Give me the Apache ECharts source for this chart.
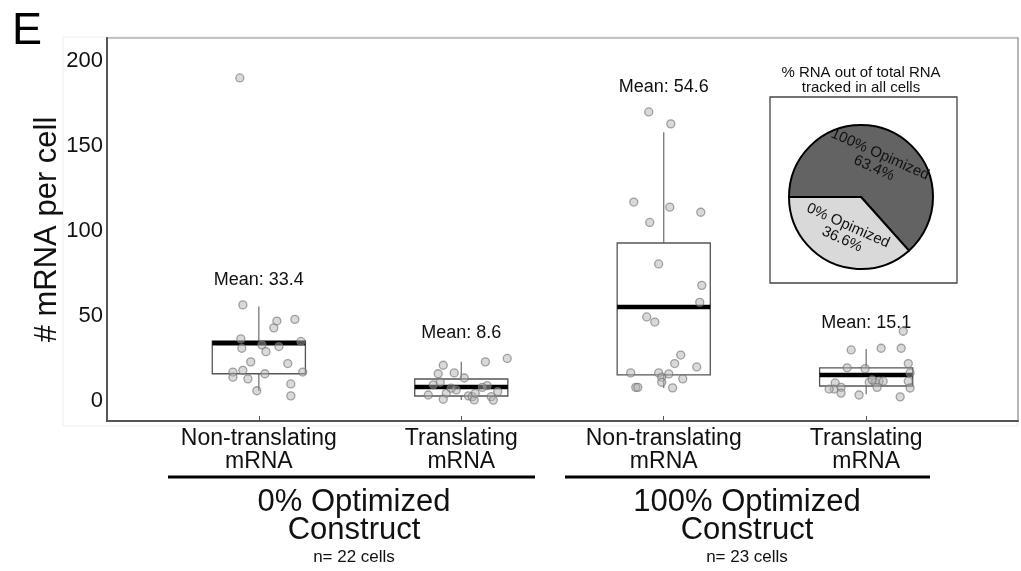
<!DOCTYPE html>
<html>
<head>
<meta charset="utf-8">
<script src="https://cdn.jsdelivr.net/npm/echarts@6/dist/echarts.min.js"></script>
<style>
  html, body { margin: 0; padding: 0; background: #fff; }
  #chart { width: 1021px; height: 571px; }
</style>
</head>
<body>
<div id="chart"></div>
<script>
// ---- data ----
const categories = ['Non-translating\nmRNA', 'Translating\nmRNA', 'Non-translating\nmRNA', 'Translating\nmRNA'];
const yTicks = [0, 50, 100, 150, 200];

// box statistics per group
const whiskerLow  = [5.9, 0.5, 7.6, 4.0];
const quartile1   = [16.0, 2.9, 15.3, 8.8];
const medians     = [34.0, 8.2, 55.3, 15.3];
const quartile3   = [35.3, 12.9, 92.9, 19.4];
const whiskerHigh = [55.5, 23.0, 158.0, 30.6];
const means       = [33.4, 8.6, 54.6, 15.1];

// single cells: [horizontal jitter, mRNA count]
const cellsNonTrans0 = [
  [-0.094, 190], [-0.079, 56.5], [0.089, 47], [0.178, 48], [0.074, 43], [-0.089, 36.5],
  [-0.084, 31], [0.015, 33], [0.035, 29], [0.099, 32], [0.208, 35], [-0.040, 23],
  [0.143, 22], [-0.128, 17], [-0.079, 18], [-0.128, 14], [-0.054, 13], [0.030, 16],
  [0.217, 17], [-0.010, 6], [0.158, 10], [0.158, 3]
];
const cellsTrans0 = [
  [-0.089, 21], [0.119, 23], [0.227, 25], [-0.114, 16], [-0.035, 16.5], [0.015, 13.5],
  [-0.104, 11], [-0.138, 9.5], [0.128, 9], [0.104, 8], [-0.025, 6.5], [-0.163, 3.5],
  [-0.074, 4.5], [-0.089, 1], [0.035, 3], [0.054, 2.5], [0.064, 0.6], [0.069, 4.5],
  [0.148, 2.5], [0.158, 0.5], [-0.050, 7.5], [0.180, 5.5]
];
const cellsNonTrans100 = [
  [-0.074, 170], [0.035, 163], [-0.148, 117], [0.030, 114], [0.183, 111], [-0.069, 105],
  [-0.025, 80.6], [0.188, 68], [0.178, 58], [-0.084, 49.4], [-0.044, 46.4], [0.084, 27],
  [0.054, 22], [0.163, 20], [-0.163, 16.5], [-0.025, 16.5], [0.025, 15.9], [-0.010, 14],
  [-0.010, 11], [0.094, 13], [-0.138, 8], [-0.128, 8], [0.044, 7.7]
];
const cellsTrans100 = [
  [0.183, 41], [-0.074, 30], [0.074, 31], [0.173, 31], [0.208, 22], [-0.094, 19.5],
  [-0.005, 19], [-0.153, 10.6], [-0.158, 7], [-0.124, 8], [-0.124, 4.6], [-0.035, 3.5],
  [0.015, 11], [0.044, 11], [0.064, 11.6], [0.084, 11.6], [0.054, 8], [0.208, 11.6],
  [0.217, 7.6], [0.168, 2.4], [0.030, 12.4], [-0.183, 7], [0.217, 16.5]
];
const cellGroups = [cellsNonTrans0, cellsTrans0, cellsNonTrans100, cellsTrans100];

// share of all tracked RNA
const pieNames  = ['100% Opimized', '0% Opimized'];
const pieShares = [63.4, 36.6];
const pieColors = ['#636363', '#d9d9d9'];

const groupTitles = ['0% Optimized\nConstruct', '100% Optimized\nConstruct'];
const groupCounts = ['n= 22 cells', 'n= 23 cells'];

// ---- build ----
const FONT = '"Liberation Sans", Arial, Helvetica, sans-serif';
const BOX_WIDTH = 0.46;

// the mean caption sits above the whisker and any cell hugging its top
function captionAnchor(cells, hi) {
  let top = hi;
  cells.forEach(c => { if (c[1] <= hi * 1.1 && c[1] > top) top = c[1]; });
  return top;
}

const boxData = categories.map((_, i) => [
  i + 1, whiskerLow[i], quartile1[i], medians[i], quartile3[i], whiskerHigh[i],
  means[i], captionAnchor(cellGroups[i], whiskerHigh[i])
]);

const pointData = [];
cellGroups.forEach((cells, i) => cells.forEach(c => pointData.push([i + 1 + c[0], c[1]])));

const chart = echarts.init(document.getElementById('chart'), null, { renderer: 'canvas' });

chart.setOption({
  animation: false,
  backgroundColor: '#fff',
  textStyle: { fontFamily: FONT },
  grid: {
    left: 107, top: 38, right: 3, bottom: 150,
    show: true, borderColor: '#8a8a8a', borderWidth: 1.2, backgroundColor: '#fff'
  },
  xAxis: {
    type: 'value', min: 0.25, max: 4.75,
    axisLine: { show: true, onZero: false, lineStyle: { color: '#555', width: 2 } },
    axisTick: { show: true, inside: true, length: 5, customValues: [1, 2, 3, 4], lineStyle: { color: '#555', width: 1 } },
    axisLabel: {
      customValues: [1, 2, 3, 4],
      formatter: v => categories[Math.round(v) - 1],
      fontSize: 23, lineHeight: 23, color: '#111', margin: 6, fontFamily: FONT
    },
    splitLine: { show: false }
  },
  yAxis: {
    type: 'value', min: -11.8, max: 213.5,
    name: '# mRNA per cell', nameLocation: 'middle', nameGap: 44, nameMoveOverlap: false,
    nameTextStyle: { fontSize: 31, color: '#111', fontFamily: FONT },
    axisLine: { show: true, lineStyle: { color: '#555', width: 2 } },
    axisTick: { show: false },
    axisLabel: { customValues: yTicks, fontSize: 22, color: '#111', margin: 4, fontFamily: FONT },
    splitLine: { show: false }
  },
  series: [
    {
      type: 'custom',
      z: 2,
      silent: true,
      encode: { x: 0, y: [1, 2, 3, 4, 5] },
      data: boxData,
      renderItem: (params, api) => {
        const x = api.value(0);
        const lo = api.coord([x, api.value(1)]);
        const q1 = api.coord([x, api.value(2)]);
        const md = api.coord([x, api.value(3)]);
        const q3 = api.coord([x, api.value(4)]);
        const hi = api.coord([x, api.value(5)]);
        const cap = api.coord([x, api.value(7)]);
        const half = api.size([BOX_WIDTH, 0])[0] / 2;
        const cx = lo[0];
        const whisker = { stroke: '#777', lineWidth: 1.3 };
        return {
          type: 'group',
          children: [
            { type: 'line', shape: { x1: cx, y1: lo[1], x2: cx, y2: q1[1] }, style: whisker },
            { type: 'line', shape: { x1: cx, y1: q3[1], x2: cx, y2: hi[1] }, style: whisker },
            { type: 'rect', shape: { x: cx - half, y: q3[1], width: half * 2, height: q1[1] - q3[1] },
              style: { fill: 'none', stroke: '#555', lineWidth: 1.3 } },
            { type: 'line', shape: { x1: cx - half, y1: md[1], x2: cx + half, y2: md[1] },
              style: { stroke: '#000', lineWidth: 4.5 } },
            { type: 'text', x: cx, y: cap[1] - 25,
              style: { text: 'Mean: ' + api.value(6), fontSize: 18, fontFamily: FONT, fill: '#111',
                       align: 'center', verticalAlign: 'middle' } }
          ]
        };
      }
    },
    {
      type: 'scatter',
      z: 3,
      silent: true,
      symbol: 'circle',
      symbolSize: 8,
      itemStyle: { color: 'rgba(175,175,175,0.6)', borderColor: 'rgba(115,115,115,0.8)', borderWidth: 1.3 },
      data: pointData
    },
    {
      type: 'pie',
      z: 5,
      silent: true,
      center: [861, 197],
      radius: 72,
      startAngle: 180,
      clockwise: true,
      label: {
        show: true, position: 'inside', rotate: 'tangential',
        formatter: p => p.name + '\n' + p.value + '%',
        fontSize: 15, lineHeight: 15, color: '#111', fontFamily: FONT
      },
      labelLine: { show: false },
      itemStyle: { borderColor: '#000', borderWidth: 2 },
      emphasis: { disabled: true },
      data: pieNames.map((n, i) => ({ name: n, value: pieShares[i], itemStyle: { color: pieColors[i] } }))
    }
  ],
  graphic: [
    { type: 'rect', z: -1, silent: true, shape: { x: 63, y: 37, width: 955, height: 389 },
      style: { fill: 'none', stroke: '#ececec', lineWidth: 1 } },
    { type: 'text', left: 12, top: 9, silent: true,
      style: { text: 'E', fontSize: 45, fontFamily: FONT, fill: '#000' } },
    // inset frame and caption of the pie
    { type: 'rect', z: 4, silent: true, shape: { x: 770, y: 97, width: 187, height: 186 },
      style: { fill: '#fff', stroke: '#444', lineWidth: 1.3 } },
    { type: 'text', z: 4, silent: true, x: 861, y: 80,
      style: { text: '% RNA out of total RNA\ntracked in all cells', fontSize: 15, lineHeight: 15,
               fontFamily: FONT, fill: '#111', align: 'center', verticalAlign: 'middle' } },
    // construct groups under the axis
    { type: 'line', silent: true, shape: { x1: 168, y1: 477, x2: 535, y2: 477 },
      style: { stroke: '#000', lineWidth: 3 } },
    { type: 'line', silent: true, shape: { x1: 565, y1: 477, x2: 930, y2: 477 },
      style: { stroke: '#000', lineWidth: 3 } },
    { type: 'text', silent: true, x: 354, y: 516,
      style: { text: groupTitles[0], fontSize: 31, lineHeight: 28, fontFamily: FONT, fill: '#111',
               align: 'center', verticalAlign: 'middle' } },
    { type: 'text', silent: true, x: 747, y: 516,
      style: { text: groupTitles[1], fontSize: 31, lineHeight: 28, fontFamily: FONT, fill: '#111',
               align: 'center', verticalAlign: 'middle' } },
    { type: 'text', silent: true, x: 354, y: 557,
      style: { text: groupCounts[0], fontSize: 17, fontFamily: FONT, fill: '#111',
               align: 'center', verticalAlign: 'middle' } },
    { type: 'text', silent: true, x: 747, y: 557,
      style: { text: groupCounts[1], fontSize: 17, fontFamily: FONT, fill: '#111',
               align: 'center', verticalAlign: 'middle' } }
  ]
});
</script>
</body>
</html>
